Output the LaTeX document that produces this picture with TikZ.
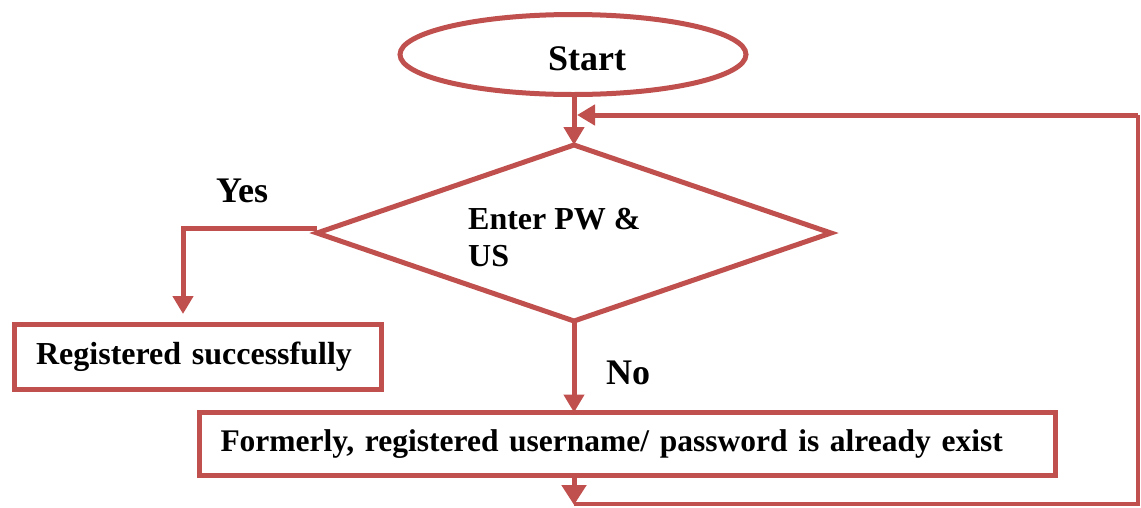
\documentclass[tikz,border=0pt]{standalone}
\usepackage{fontspec}
\setmainfont{Liberation Serif}
\usetikzlibrary{shapes.geometric,arrows.meta}
\definecolor{acc}{HTML}{C0504D}
\tikzset{
  ln/.style={draw=acc,line width=5pt},
  arr/.style={ln,-{Triangle[width=20pt,length=18pt]}},
  boxs/.style={ln,rectangle,inner sep=0pt,outer sep=0pt,font=\fontsize{32}{38}\selectfont\bfseries},
  big/.style={inner sep=0pt,font=\fontsize{36}{42}\selectfont\bfseries},
  mid/.style={inner sep=0pt,font=\fontsize{32}{37}\selectfont\bfseries},
}
\begin{document}
\begin{tikzpicture}[x=1pt,y=-1pt]
\useasboundingbox (0,0) rectangle (1141,507);
\node[ln,ellipse,minimum width=346pt,minimum height=80pt,inner sep=0pt,outer sep=0pt] (start) at (573,54.5) {};
\node[big,anchor=base west] (starttxt) at (548,70) {Start};
\node[ln,diamond,minimum width=514pt,minimum height=176pt,inner sep=0pt,outer sep=0pt] (dia) at (574,233) {};
\node[mid,anchor=base west,align=left] (entertxt) at (468,266) {Enter PW \&\\US};
\node[big,anchor=base west] (yes) at (216,202) {Yes};
\node[big,anchor=base west] (no) at (606,384) {No};
\node[boxs,minimum width=367pt,minimum height=65pt,text width=357pt,align=center] (reg) at (198,357) {\hspace*{-8pt}Registered successfully};
\node[boxs,minimum width=856pt,minimum height=63pt,text width=814pt,inner xsep=21pt,align=left] (form) at (627.5,444) {\fontsize{31.5}{37}\selectfont Formerly, registered username/ password is already exist};
\coordinate (yt) at (183,314);
\coordinate (c1) at (574,505);
\coordinate (c2) at (1138,115);
\coordinate (c3) at (577,115);
\draw[arr] (dia.north |- start.south) -- (dia.north);
\draw[arr] ([yshift=5pt]dia.west) -| (yt);
\draw[arr] (dia.south) -- (dia.south |- form.north);
\draw[ln,line width=4pt] ([yshift=1pt]c1) -| (c2);
\draw[arr] (c2) -- (c3);
\draw[ln,-{Triangle[width=24pt,length=20pt]}] (form.south -| c1) -- (c1);
\end{tikzpicture}
\end{document}
